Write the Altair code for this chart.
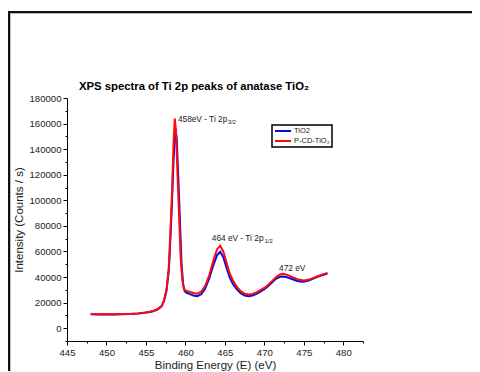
import altair as alt
import pandas as pd

FONT = "Liberation Sans"

title_text = ["XPS spectra of Ti 2p peaks of anatase TiO\u2082"]

series_names = ["TiO2", "P-CD-TiO\u2082"]
series_colors = ["#0a0ae0", "#ff0a0a"]

energy_tio2 = [448.0, 449.0, 450.0, 451.0, 452.0, 453.0, 454.0, 454.5, 455.0, 455.5,
               456.0, 456.5, 457.0, 457.3, 457.6, 457.9, 458.1, 458.3, 458.5, 458.75,
               458.9, 459.1, 459.3, 459.5, 459.7, 459.9, 460.2, 460.5, 461.0, 461.5,
               462.0, 462.5, 463.0, 463.5, 464.0, 464.4, 464.8, 465.2, 465.6, 466.0,
               466.5, 467.0, 467.5, 468.0, 468.5, 469.0, 469.5, 470.0, 470.5, 471.0,
               471.5, 472.0, 472.4, 473.0, 473.5, 474.0, 474.5, 475.0, 475.5, 476.0,
               476.5, 477.0, 477.5, 478.0]
intensity_tio2 = [11000, 10800, 10900, 10700, 10900, 11100, 11500, 11800, 12200, 12700,
                  13500, 14800, 17200, 21500, 29000, 45000, 70000, 98000, 132000, 156000,
                  148000, 118000, 85000, 52000, 35000, 29000, 27500, 26800, 25500, 25000,
                  26500, 31000, 38500, 48500, 57000, 59800, 55500, 47500, 40000, 34800,
                  30500, 27300, 25600, 25000, 25500, 26800, 28500, 30500, 33000, 36000,
                  38800, 40200, 40500, 39600, 38500, 37300, 36600, 36400, 37000, 38200,
                  39500, 40700, 41800, 42700]

energy_pcd = [448.0, 449.0, 450.0, 451.0, 452.0, 453.0, 454.0, 454.5, 455.0, 455.5,
              456.0, 456.5, 457.0, 457.3, 457.6, 457.9, 458.1, 458.3, 458.5, 458.65,
              458.8, 459.0, 459.2, 459.4, 459.6, 459.8, 460.0, 460.5, 461.0, 461.5,
              462.0, 462.5, 463.0, 463.5, 464.0, 464.4, 464.8, 465.2, 465.6, 466.0,
              466.5, 467.0, 467.5, 468.0, 468.5, 469.0, 469.5, 470.0, 470.5, 471.0,
              471.5, 472.0, 472.4, 473.0, 473.5, 474.0, 474.5, 475.0, 475.5, 476.0,
              476.5, 477.0, 477.5, 478.0]
intensity_pcd = [11200, 11000, 11100, 10900, 11100, 11200, 11600, 11900, 12300, 12800,
                 13600, 15000, 17500, 22000, 30000, 48000, 75000, 105000, 145000, 164000,
                 155000, 120000, 88000, 55000, 38000, 31000, 29500, 28500, 27500, 27000,
                 28500, 33000, 41000, 52000, 61500, 64500, 60000, 51500, 43000, 37500,
                 32500, 29000, 27000, 26300, 26800, 28000, 29800, 31500, 34000, 37000,
                 40000, 42000, 42600, 41500, 40200, 38800, 37800, 37400, 37800, 38800,
                 40000, 41200, 42300, 43200]

x_major = [445, 450, 455, 460, 465, 470, 475, 480]
x_minor = [447.5, 452.5, 457.5, 462.5, 467.5, 472.5, 477.5, 482.5]
y_major = [0, 20000, 40000, 60000, 80000, 100000, 120000, 140000, 160000, 180000]
y_minor = [-10000, 10000, 30000, 50000, 70000, 90000, 110000, 130000, 150000, 170000]

ann_text = ["458eV - Ti 2p", "464 eV - Ti 2p", "472 eV"]
ann_x = [459.05, 463.35, 471.87]
ann_y = [161500, 68200, 44450]
sub_text = ["3/2", "1/2"]
sub_x = [465.4, 470.05]
sub_y = [159500, 66600]

df_blue = pd.DataFrame({"E": energy_tio2, "I": intensity_tio2, "series": series_names[0]})
df_red = pd.DataFrame({"E": energy_pcd, "I": intensity_pcd, "series": series_names[1]})
df_ann = pd.DataFrame({"E": ann_x, "I": ann_y, "t": ann_text})
df_sub = pd.DataFrame({"E": sub_x, "I": sub_y, "t": sub_text})
df_title = pd.DataFrame({"t": title_text})
df_one = pd.DataFrame({"a": [0]})

xscale = alt.Scale(domain=[445, 482.5], nice=False, zero=False)
yscale = alt.Scale(domain=[-10000, 180000], nice=False, zero=False)

x_axis = alt.Axis(
    values=x_major, tickSize=4, labelOverlap=False, labelFlush=False,
    labelExpr="'' + datum.value",
    title="Binding Energy (E) (eV)",
    titleY=27.5, titleBaseline="alphabetic",
    grid=False, orient="bottom",
)
y_axis = alt.Axis(
    values=y_major, tickSize=4, labelOverlap=False,
    labelExpr="'' + datum.value",
    title="Intensity (Counts / s)",
    titleX=-48, titleBaseline="middle",
    grid=False, orient="left",
)
x_minor_axis = alt.Axis(values=x_minor, tickSize=2, labels=False, domain=False,
                        title=None, grid=False, orient="bottom")
y_minor_axis = alt.Axis(values=y_minor, tickSize=2, labels=False, domain=False,
                        title=None, grid=False, orient="left")

color = alt.Color(
    "series:N",
    scale=alt.Scale(domain=series_names, range=series_colors),
    legend=alt.Legend(
        title=None, orient="none", legendX=205, legendY=27,
        symbolType="stroke", symbolSize=256, symbolStrokeWidth=2,
        clipHeight=8, rowPadding=2, padding=2, labelOffset=2,
        labelFontSize=7.5, labelFont=FONT, labelColor="#222",
        strokeColor="black",
    ),
)

minor = alt.Chart(df_blue).mark_line(opacity=0).encode(
    x=alt.X("E:Q", scale=xscale, axis=x_minor_axis),
    y=alt.Y("I:Q", scale=yscale, axis=y_minor_axis),
)
blue = alt.Chart(df_blue).mark_line(strokeWidth=2).encode(
    x=alt.X("E:Q", scale=xscale, axis=x_axis),
    y=alt.Y("I:Q", scale=yscale, axis=y_axis),
    color=color,
)
red = alt.Chart(df_red).mark_line(strokeWidth=2).encode(
    x=alt.X("E:Q", scale=xscale, axis=None),
    y=alt.Y("I:Q", scale=yscale, axis=None),
    color=color,
)

ann = alt.Chart(df_ann).mark_text(
    align="left", baseline="alphabetic", font=FONT, fontSize=8.3, color="#222"
).encode(x=alt.X("E:Q", scale=xscale, axis=None),
         y=alt.Y("I:Q", scale=yscale, axis=None), text="t:N")

sub = alt.Chart(df_sub).mark_text(
    align="left", baseline="alphabetic", font=FONT, fontSize=5.8, color="#222"
).encode(x=alt.X("E:Q", scale=xscale, axis=None),
         y=alt.Y("I:Q", scale=yscale, axis=None), text="t:N")

title = alt.Chart(df_title).mark_text(
    align="left", baseline="alphabetic", font=FONT, fontSize=11.3,
    fontWeight="bold", color="black"
).encode(x=alt.value(12), y=alt.value(-8.5), text="t:N")

frame_top = alt.Chart(df_one).mark_rule(color="#111", strokeWidth=2).encode(
    x=alt.value(-59), x2=alt.value(440), y=alt.value(-86))
frame_left = alt.Chart(df_one).mark_rule(color="#111", strokeWidth=2).encode(
    x=alt.value(-58), y=alt.value(-87), y2=alt.value(300))
shade_top = alt.Chart(df_one).mark_rule(color="#bbb", strokeWidth=1).encode(
    x=alt.value(-57), x2=alt.value(440), y=alt.value(-84.5))
shade_left = alt.Chart(df_one).mark_rule(color="#bbb", strokeWidth=1).encode(
    x=alt.value(-56.5), y=alt.value(-85), y2=alt.value(300))

chart = alt.layer(
    frame_top, frame_left, shade_top, shade_left, minor, blue, red, ann, sub, title
).resolve_axis(x="independent", y="independent").properties(
    width=296, height=243,
    autosize=alt.AutoSizeParams(type="none"),
    padding={"left": 59, "top": 90, "right": 109, "bottom": 30},
).configure_view(stroke=None).configure_axis(
    domainColor="black", domainWidth=1, tickColor="black", tickWidth=1,
    labelFont=FONT, labelFontSize=9.6, labelColor="#222", labelPadding=2,
    titleFont=FONT, titleFontSize=11.5, titleFontWeight="normal", titleColor="#222",
).configure_legend(strokeWidth=1.5)

chart.save("out.html", embed_options={"renderer": "svg", "actions": False})
